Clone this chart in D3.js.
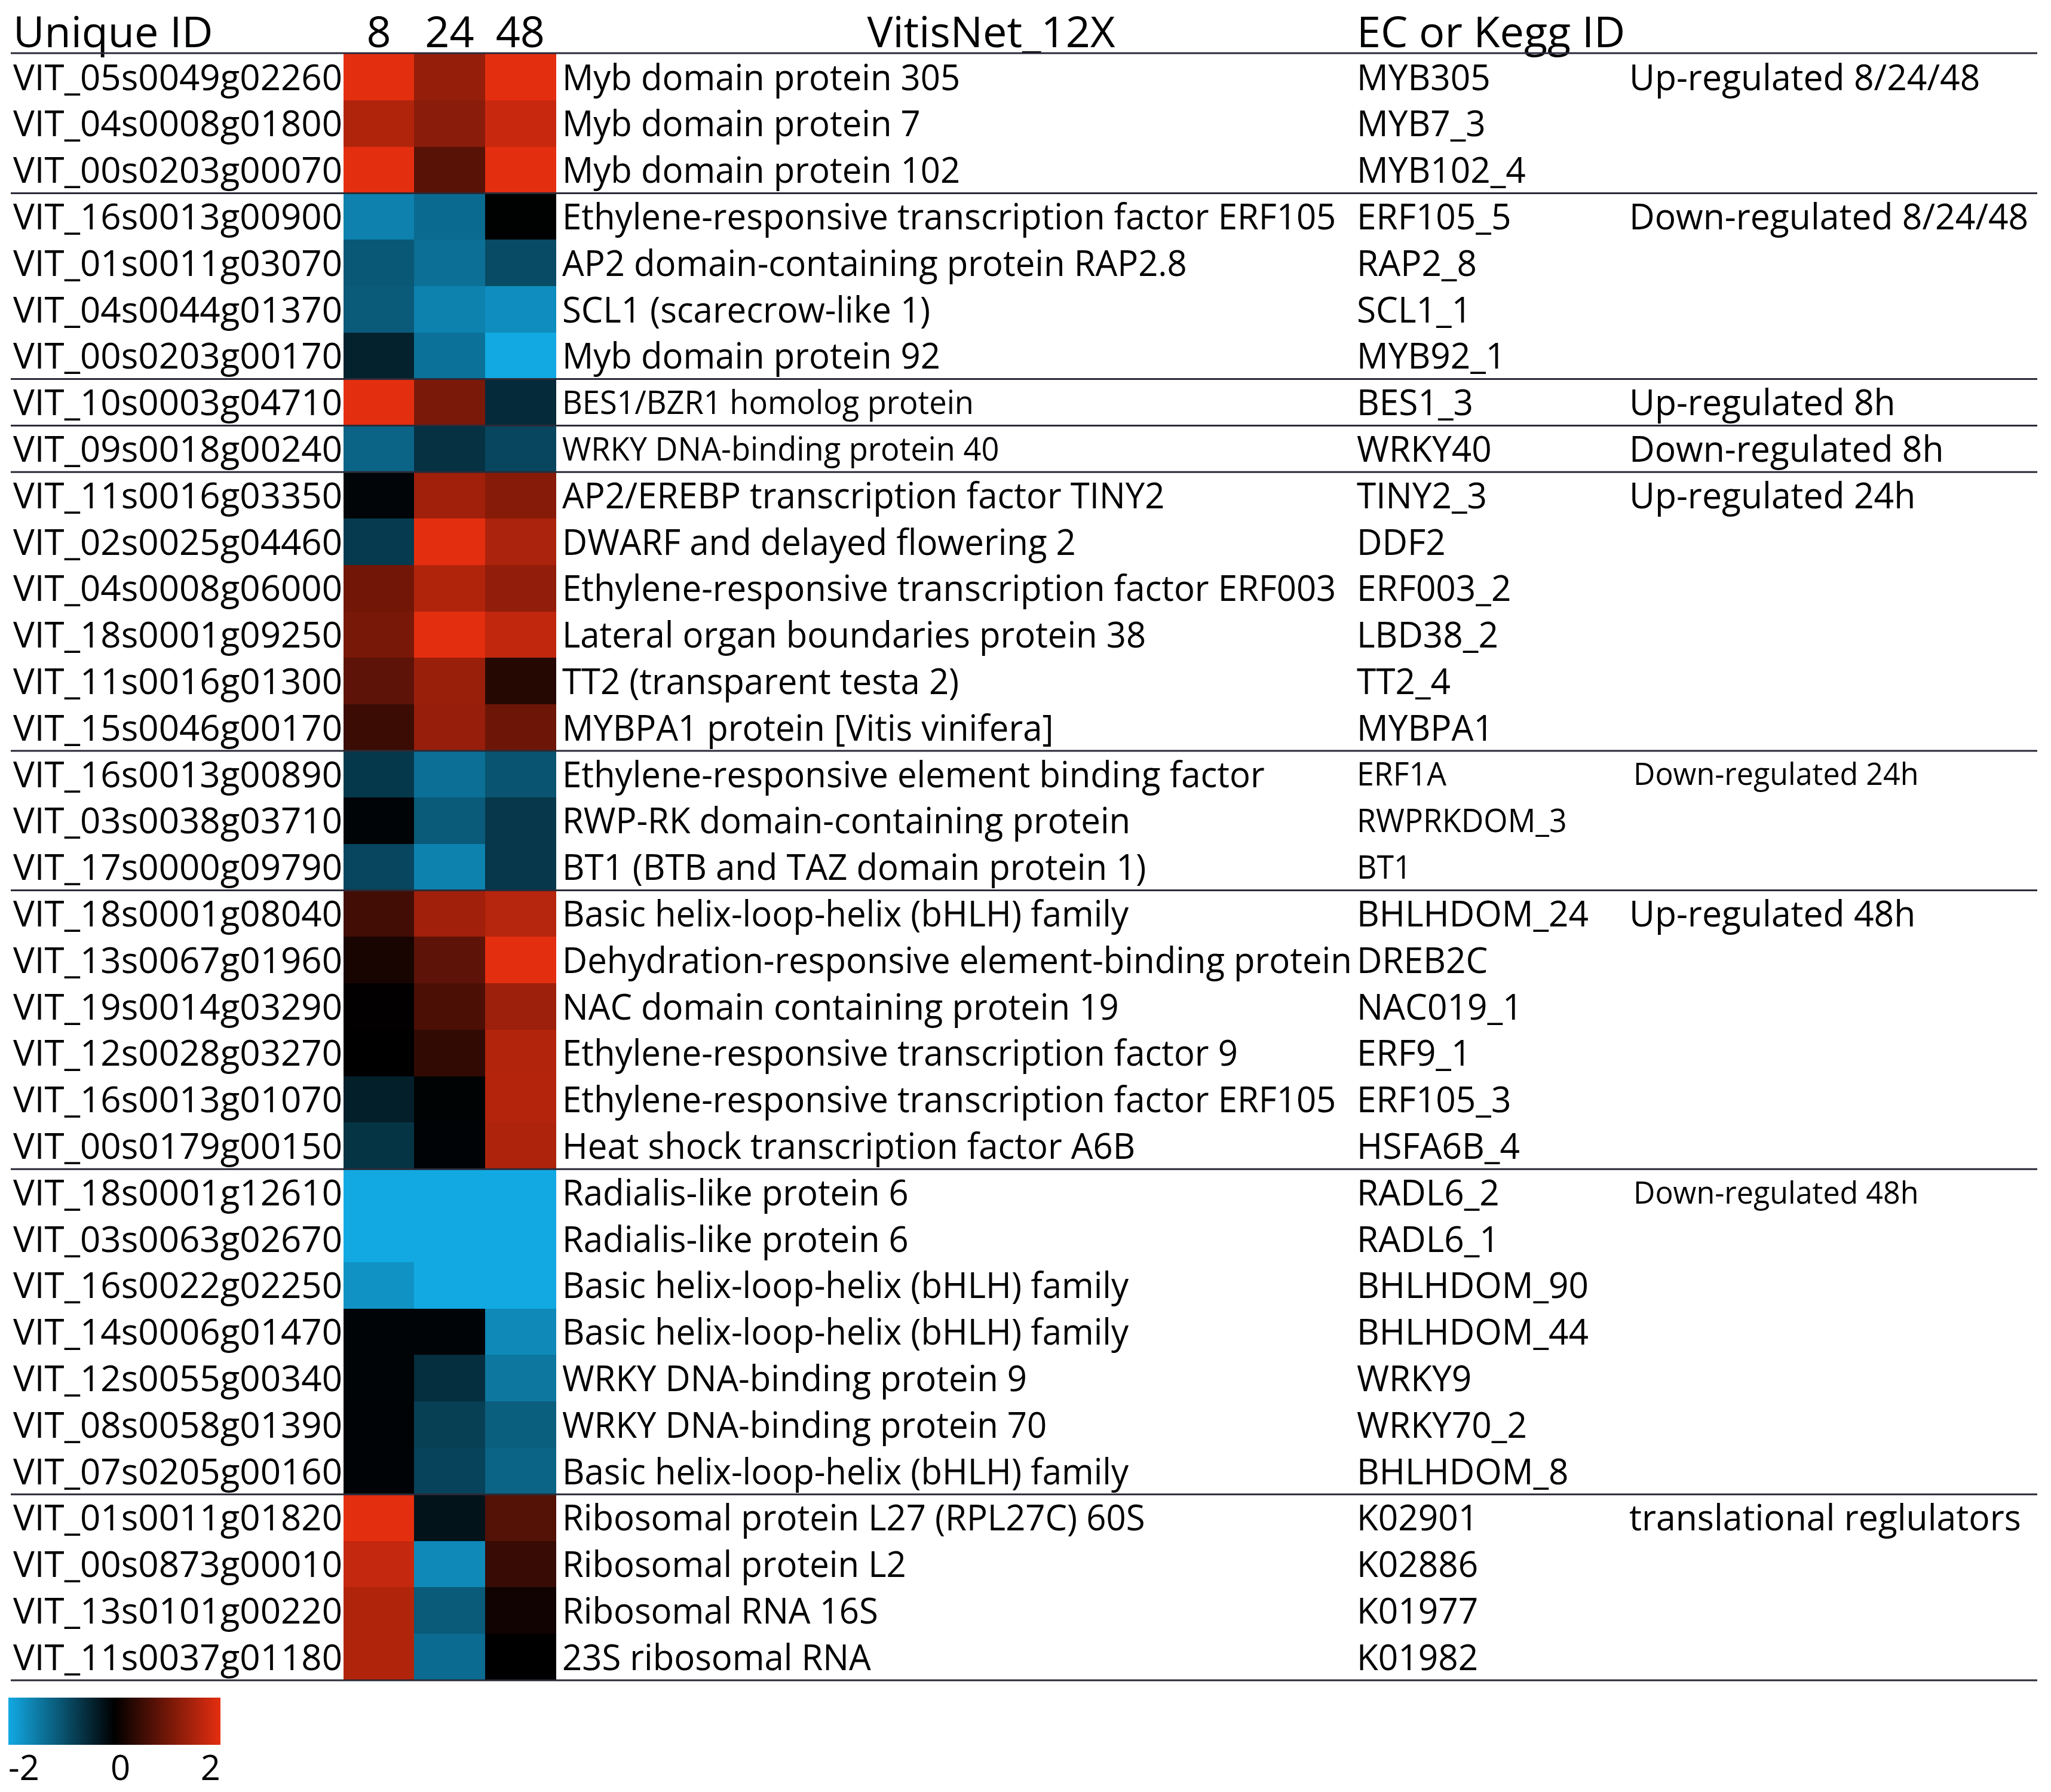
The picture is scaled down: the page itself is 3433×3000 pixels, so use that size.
<!DOCTYPE html>
<html>
<head>
<meta charset="utf-8">
<script src="https://cdn.jsdelivr.net/npm/d3@7"></script>
<style>
  html, body { margin: 0; padding: 0; background: #fff; }
  text { font-family: "Open Sans", "DejaVu Sans", sans-serif; fill: #000; }
</style>
</head>
<body>
<svg id="chart" width="3433" height="3000"></svg>
<script>
// ---------------- DATA ----------------
const timePoints = ["8", "24", "48"];

const uniqueIds = [
  "VIT_05s0049g02260","VIT_04s0008g01800","VIT_00s0203g00070",
  "VIT_16s0013g00900","VIT_01s0011g03070","VIT_04s0044g01370","VIT_00s0203g00170",
  "VIT_10s0003g04710",
  "VIT_09s0018g00240",
  "VIT_11s0016g03350","VIT_02s0025g04460","VIT_04s0008g06000","VIT_18s0001g09250","VIT_11s0016g01300","VIT_15s0046g00170",
  "VIT_16s0013g00890","VIT_03s0038g03710","VIT_17s0000g09790",
  "VIT_18s0001g08040","VIT_13s0067g01960","VIT_19s0014g03290","VIT_12s0028g03270","VIT_16s0013g01070","VIT_00s0179g00150",
  "VIT_18s0001g12610","VIT_03s0063g02670","VIT_16s0022g02250","VIT_14s0006g01470","VIT_12s0055g00340","VIT_08s0058g01390","VIT_07s0205g00160",
  "VIT_01s0011g01820","VIT_00s0873g00010","VIT_13s0101g00220","VIT_11s0037g01180"
];

const descriptions = [
  "Myb domain protein 305","Myb domain protein 7","Myb domain protein 102",
  "Ethylene-responsive transcription factor ERF105","AP2 domain-containing protein RAP2.8","SCL1 (scarecrow-like 1)","Myb domain protein 92",
  "BES1/BZR1 homolog protein",
  "WRKY DNA-binding protein 40",
  "AP2/EREBP transcription factor TINY2","DWARF and delayed flowering 2","Ethylene-responsive transcription factor ERF003","Lateral organ boundaries protein 38","TT2 (transparent testa 2)","MYBPA1 protein [Vitis vinifera]",
  "Ethylene-responsive element binding factor","RWP-RK domain-containing protein","BT1 (BTB and TAZ domain protein 1)",
  "Basic helix-loop-helix (bHLH) family","Dehydration-responsive element-binding protein","NAC domain containing protein 19","Ethylene-responsive transcription factor 9","Ethylene-responsive transcription factor ERF105","Heat shock transcription factor A6B",
  "Radialis-like protein 6","Radialis-like protein 6","Basic helix-loop-helix (bHLH) family","Basic helix-loop-helix (bHLH) family","WRKY DNA-binding protein 9","WRKY DNA-binding protein 70","Basic helix-loop-helix (bHLH) family",
  "Ribosomal protein L27 (RPL27C) 60S","Ribosomal protein L2","Ribosomal RNA 16S","23S ribosomal RNA"
];

const ecIds = [
  "MYB305","MYB7_3","MYB102_4",
  "ERF105_5","RAP2_8","SCL1_1","MYB92_1",
  "BES1_3",
  "WRKY40",
  "TINY2_3","DDF2","ERF003_2","LBD38_2","TT2_4","MYBPA1",
  "ERF1A","RWPRKDOM_3","BT1",
  "BHLHDOM_24","DREB2C","NAC019_1","ERF9_1","ERF105_3","HSFA6B_4",
  "RADL6_2","RADL6_1","BHLHDOM_90","BHLHDOM_44","WRKY9","WRKY70_2","BHLHDOM_8",
  "K02901","K02886","K01977","K01982"
];

const groupLabels = [
  "Up-regulated 8/24/48","Down-regulated 8/24/48","Up-regulated 8h","Down-regulated 8h",
  "Up-regulated 24h","Down-regulated 24h","Up-regulated 48h","Down-regulated 48h","translational reglulators"
];
const groupSizes = [3, 4, 1, 1, 6, 3, 6, 7, 4];

// log-scaled expression (colour key -2 .. 2)
const values8 = [
  2.0, 1.55, 2.0,
  -1.53, -1.04, -1.07, -0.40,
  2.0,
  -1.18,
  -0.06, -0.70, 1.00, 1.05, 0.82, 0.51,
  -0.66, -0.05, -0.83,
  0.58, 0.21, 0.02, 0.0, -0.37, -0.61,
  -2.0, -2.0, -1.73, -0.05, -0.05, -0.04, -0.04,
  2.0, 1.72, 1.55, 1.55
];
const values24 = [
  1.30, 1.20, 0.77,
  -1.26, -1.31, -1.54, -1.34,
  1.07,
  -0.58,
  1.40, 2.0, 1.55, 2.0, 1.35, 1.32,
  -1.31, -1.07, -1.54,
  1.40, 0.82, 0.67, 0.44, -0.03, -0.04,
  -2.0, -2.0, -2.0, -0.05, -0.55, -0.75, -0.79,
  -0.23, -1.62, -1.07, -1.27
];
const values48 = [
  2.0, 1.75, 2.0,
  -0.01, -0.89, -1.67, -2.0,
  -0.51,
  -0.83,
  1.18, 1.50, 1.28, 1.68, 0.33, 0.96,
  -0.99, -0.65, -0.65,
  1.60, 2.0, 1.37, 1.57, 1.58, 1.53,
  -2.0, -2.0, -2.0, -1.62, -1.41, -1.11, -1.18,
  0.74, 0.49, 0.14, 0.0
];

const colorKeyTicks = [-2, 0, 2];

// ---------------- CHART ----------------
const svg = d3.select("#chart");

const rowFont = 61;
const headFont = 72;
const smallDesc = new Set(["BES1/BZR1 homolog protein", "WRKY DNA-binding protein 40"]);
const smallEc = new Set(["ERF1A", "RWPRKDOM_3", "BT1"]);
const smallGroup = new Set(["Down-regulated 24h", "Down-regulated 48h"]);

const y = d3.scaleBand().domain(uniqueIds).range([90, 2813]).padding(0);
const x = d3.scaleBand().domain(timePoints).range([575, 930]).padding(0);
const color = d3.scaleLinear().domain([-2, 0, 2])
  .range(["#12a9e3", "#000000", "#e42e10"]).clamp(true);

const valueSeries = { "8": values8, "24": values24, "48": values48 };
const cells = [];
uniqueIds.forEach((id, i) => {
  timePoints.forEach(t => cells.push({ id, t, v: valueSeries[t][i] }));
});

// heatmap cells
svg.append("g").selectAll("rect").data(cells).join("rect")
  .attr("x", d => x(d.t))
  .attr("y", d => y(d.id))
  .attr("width", x.bandwidth() + 0.5)
  .attr("height", y.bandwidth() + 0.5)
  .attr("fill", d => color(d.v))
  .attr("shape-rendering", "crispEdges");

const rowMid = id => y(id) + y.bandwidth() / 2;
const baseFor = (id, fs) => rowMid(id) + fs * 0.357;
// place a text with a slight horizontal condensing (Calibri-like proportions)
const place = (sel, xf, yf, sx) =>
  sel.attr("x", 0).attr("y", 0)
     .attr("transform", (d, i) => `translate(${xf(d, i)},${yf(d, i)}) scale(${sx},1)`);

// headers
const head = svg.append("g").attr("font-size", headFont);
const headBase = 79;
head.append("text").attr("x", 22).attr("y", headBase).text("Unique ID");
head.selectAll("text.tp").data(timePoints).join("text").attr("class", "tp")
  .attr("x", d => x(d) + x.bandwidth() / 2).attr("y", headBase)
  .attr("text-anchor", "middle").text(d => d);
head.append("text").attr("x", 1659).attr("y", headBase).attr("text-anchor", "middle").text("VitisNet_12X");
head.append("text").attr("x", 2271).attr("y", headBase).text("EC or Kegg ID");

// row texts
const rows = svg.append("g");
place(rows.selectAll("text.id").data(uniqueIds).join("text").attr("class", "id")
  .attr("font-size", rowFont).text(d => d),
  () => 22, d => baseFor(d, rowFont), 0.985);

const descFs = d => smallDesc.has(d) ? 55 : rowFont;
place(rows.selectAll("text.desc").data(descriptions).join("text").attr("class", "desc")
  .attr("font-size", descFs).text(d => d),
  () => 941, (d, i) => baseFor(uniqueIds[i], descFs(d)), 0.952);

const ecFs = d => smallEc.has(d) ? 54 : rowFont;
place(rows.selectAll("text.ec").data(ecIds).join("text").attr("class", "ec")
  .attr("font-size", ecFs).text(d => d),
  () => 2271, (d, i) => baseFor(uniqueIds[i], ecFs(d)), 0.96);

// group labels and separators
let start = 0;
const groups = groupLabels.map((lab, g) => {
  const first = uniqueIds[start];
  const last = uniqueIds[start + groupSizes[g] - 1];
  start += groupSizes[g];
  return { lab, first, last };
});

const grpFs = d => smallGroup.has(d.lab) ? 52 : rowFont;
place(rows.selectAll("text.grp").data(groups).join("text").attr("class", "grp")
  .attr("font-size", grpFs).text(d => d.lab),
  d => smallGroup.has(d.lab) ? 2734 : 2727, d => baseFor(d.first, grpFs(d)), 0.965);

const lineYs = [89].concat(groups.map(d => y(d.last) + y.bandwidth()));
svg.append("g").selectAll("line").data(lineYs).join("line")
  .attr("x1", 18).attr("x2", 3410)
  .attr("y1", d => d).attr("y2", d => d)
  .attr("stroke", "#2b2b38").attr("stroke-width", 3);

// colour key
const legX = d3.scaleLinear().domain([-2, 2]).range([14, 369]);
const defs = svg.append("defs");
const grad = defs.append("linearGradient").attr("id", "keygrad")
  .attr("x1", "0%").attr("x2", "100%").attr("y1", "0%").attr("y2", "0%");
grad.selectAll("stop").data(d3.range(-2, 2.01, 0.25)).join("stop")
  .attr("offset", d => ((d + 2) / 4 * 100) + "%")
  .attr("stop-color", d => color(d));
svg.append("rect").attr("x", legX(-2)).attr("y", 2842)
  .attr("width", legX(2) - legX(-2)).attr("height", 79)
  .attr("fill", "url(#keygrad)");
svg.append("g").selectAll("text").data(colorKeyTicks).join("text")
  .attr("x", d => legX(d) + (d === 0 ? 10 : 0))
  .attr("y", 2980)
  .attr("font-size", 58)
  .attr("fill", "#222")
  .attr("text-anchor", d => d < 0 ? "start" : d > 0 ? "end" : "middle")
  .text(d => d < 0 ? "-" + Math.abs(d) : String(d));
</script>
</body>
</html>
